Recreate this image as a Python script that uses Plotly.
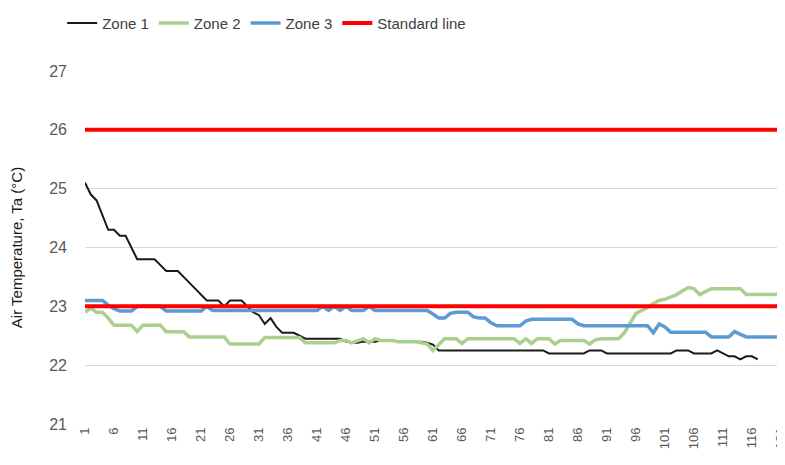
import plotly.graph_objects as go

categories = list(range(1, 123))

zone1 = [25.1, 24.9, 24.8, 24.55, 24.3, 24.3, 24.2, 24.2, 24.0, 23.8,
         23.8, 23.8, 23.8, 23.7, 23.6, 23.6, 23.6, 23.5, 23.4, 23.3,
         23.2, 23.1, 23.1, 23.1, 23.0, 23.1, 23.1, 23.1, 23.0, 22.9,
         22.85, 22.7, 22.8, 22.65, 22.55, 22.55, 22.55, 22.5, 22.45, 22.45,
         22.45, 22.45, 22.45, 22.45, 22.45, 22.4, 22.38, 22.38, 22.4, 22.4,
         22.4, 22.42, 22.42, 22.42, 22.4, 22.4, 22.4, 22.4, 22.4, 22.38,
         22.35, 22.25, 22.25, 22.25, 22.25, 22.25, 22.25, 22.25, 22.25, 22.25,
         22.25, 22.25, 22.25, 22.25, 22.25, 22.25, 22.25, 22.25, 22.25, 22.25,
         22.2, 22.2, 22.2, 22.2, 22.2, 22.2, 22.2, 22.25, 22.25, 22.25,
         22.2, 22.2, 22.2, 22.2, 22.2, 22.2, 22.2, 22.2, 22.2, 22.2,
         22.2, 22.2, 22.25, 22.25, 22.25, 22.2, 22.2, 22.2, 22.2, 22.25,
         22.2, 22.15, 22.15, 22.1, 22.15, 22.15, 22.1]

zone2 = [22.9, 22.97, 22.9, 22.9, 22.8, 22.68, 22.68, 22.68, 22.68, 22.57,
         22.68, 22.68, 22.68, 22.68, 22.57, 22.57, 22.57, 22.57, 22.48, 22.48,
         22.48, 22.48, 22.48, 22.48, 22.48, 22.36, 22.36, 22.36, 22.36, 22.36,
         22.36, 22.47, 22.47, 22.47, 22.47, 22.47, 22.47, 22.47, 22.38, 22.38,
         22.38, 22.38, 22.38, 22.38, 22.42, 22.42, 22.38, 22.42, 22.45, 22.38,
         22.45, 22.42, 22.42, 22.42, 22.4, 22.4, 22.4, 22.4, 22.38, 22.36,
         22.25, 22.36, 22.45, 22.45, 22.45, 22.37, 22.45, 22.45, 22.45, 22.45,
         22.45, 22.45, 22.45, 22.45, 22.45, 22.37, 22.45, 22.37, 22.45, 22.45,
         22.45, 22.36, 22.42, 22.42, 22.42, 22.42, 22.42, 22.36, 22.43, 22.45,
         22.45, 22.45, 22.45, 22.55, 22.72, 22.88, 22.93, 22.98, 23.05, 23.1,
         23.12, 23.16, 23.2, 23.26, 23.32, 23.3, 23.2, 23.25, 23.3, 23.3,
         23.3, 23.3, 23.3, 23.3, 23.2, 23.2, 23.2, 23.2, 23.2, 23.2,
         23.24, 23.3]

zone3 = [23.1, 23.1, 23.1, 23.1, 23.02, 22.96, 22.92, 22.92, 22.92, 23.0,
         23.0, 23.0, 23.0, 23.0, 22.92, 22.92, 22.92, 22.92, 22.92, 22.92,
         22.92, 23.0, 22.93, 22.93, 22.93, 22.93, 22.93, 22.93, 22.93, 22.93,
         22.93, 22.93, 22.93, 22.93, 22.93, 22.93, 22.93, 22.93, 22.93, 22.93,
         22.93, 23.0, 22.93, 23.0, 22.93, 23.0, 22.93, 22.93, 22.93, 23.0,
         22.93, 22.93, 22.93, 22.93, 22.93, 22.93, 22.93, 22.93, 22.93, 22.93,
         22.87, 22.8, 22.8, 22.88, 22.9, 22.9, 22.9, 22.82, 22.8, 22.8,
         22.72, 22.67, 22.67, 22.67, 22.67, 22.67, 22.75, 22.78, 22.78, 22.78,
         22.78, 22.78, 22.78, 22.78, 22.78, 22.7, 22.67, 22.67, 22.67, 22.67,
         22.67, 22.67, 22.67, 22.67, 22.67, 22.67, 22.67, 22.67, 22.55, 22.7,
         22.65, 22.56, 22.56, 22.56, 22.56, 22.56, 22.56, 22.56, 22.48, 22.48,
         22.48, 22.48, 22.57, 22.52, 22.48, 22.48, 22.48, 22.48, 22.48, 22.48,
         22.48, 22.48]

standard_upper = [26.0] * 121
standard_lower = [23.0] * 121

tick_values = list(range(1, 122, 5))
tick_labels = [str(v) for v in tick_values]

FONT = "Liberation Sans, Arial, sans-serif"

fig = go.Figure()
fig.add_trace(go.Scatter(x=categories[:len(zone1)], y=zone1, mode="lines", name="Zone 1",
                         line=dict(color="#1a1a1a", width=2)))
fig.add_trace(go.Scatter(x=categories, y=zone2, mode="lines", name="Zone 2",
                         line=dict(color="#A9D18E", width=3.5)))
fig.add_trace(go.Scatter(x=categories, y=zone3, mode="lines", name="Zone 3",
                         line=dict(color="#5B9BD5", width=3.5)))
fig.add_trace(go.Scatter(x=categories[:121], y=standard_upper, mode="lines", name="Standard line",
                         line=dict(color="#FF0000", width=4)))
fig.add_trace(go.Scatter(x=categories[:121], y=standard_lower, mode="lines", name="Standard line",
                         showlegend=False, line=dict(color="#FF0000", width=4)))

fig.update_layout(
    width=785, height=465,
    margin=dict(l=77, r=8, t=63, b=49, autoexpand=False),
    paper_bgcolor="white", plot_bgcolor="white",
    font=dict(family=FONT, color="#595959", size=15),
    showlegend=True,
    legend=dict(orientation="h", xref="container", x=0.069, xanchor="left",
                yref="container", y=0.967, yanchor="middle",
                font=dict(family=FONT, color="#404040", size=15),
                itemwidth=30, tracegroupgap=0),
    xaxis=dict(range=[1, 121.7], tickmode="array", tickvals=tick_values,
               ticktext=tick_labels, tickangle=-90, showgrid=False, zeroline=False,
               showline=False, tickfont=dict(size=13, color="#595959"), ticks="",
               automargin=False, ticklabeloverflow="allow"),
    yaxis=dict(range=[21, 27], dtick=1, showgrid=True, gridcolor="#D9D9D9", gridwidth=1.3,
               zeroline=False, showline=False, ticks="", ticklabelstandoff=17,
               tickfont=dict(size=16, color="#595959"), automargin=False,
               title=dict(text="Air Temperature, Ta (°C)", standoff=22,
                          font=dict(size=15, color="#1a1a1a"))),
)

fig.write_html("out.html")
